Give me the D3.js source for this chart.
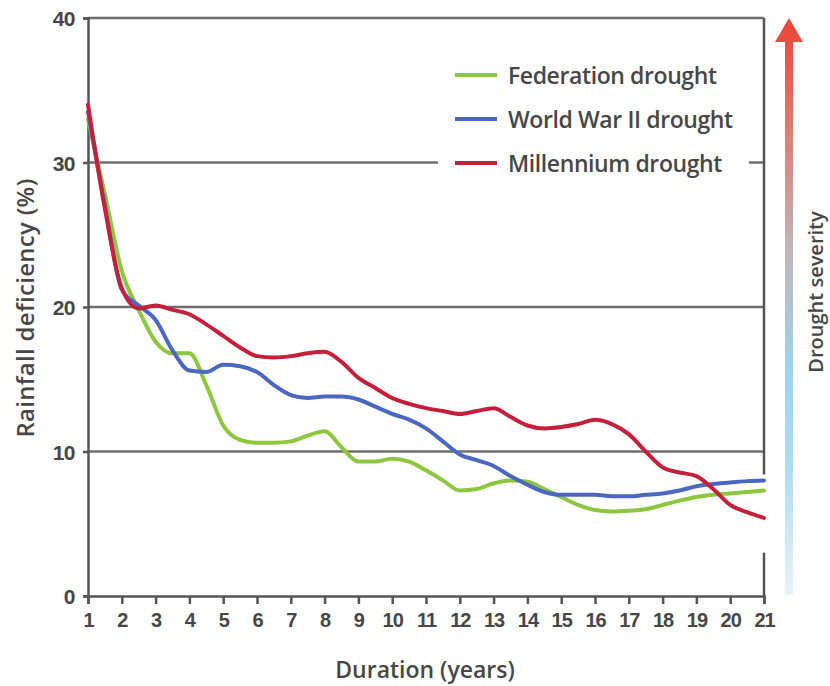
<!DOCTYPE html>
<html>
<head>
<meta charset="utf-8">
<script src="https://cdn.jsdelivr.net/npm/d3@7"></script>
<style>
  body { margin: 0; background: #fff; }
  svg { display: block; font-family: "Open Sans", "Noto Sans", sans-serif; }
</style>
</head>
<body>
<div id="chart"></div>
<script>
// duration in years, half-year steps
var durations = [1,1.5,2,2.5,3,3.5,4,4.5,5,5.5,6,6.5,7,7.5,8,8.5,9,9.5,10,10.5,11,
                 11.5,12,12.5,13,13.5,14,14.5,15,15.5,16,16.5,17,17.5,18,18.5,19,19.5,20,20.5,21];
// rainfall deficiency (%) per drought
var federation = [33.0,27.8,22.5,19.8,17.6,16.8,16.8,14.6,11.8,10.8,10.6,10.6,10.7,11.1,11.4,10.3,9.3,9.3,9.5,9.3,8.7,
                  8.0,7.3,7.4,7.8,8.0,7.9,7.4,6.85,6.3,5.95,5.85,5.9,6.0,6.3,6.6,6.85,7.0,7.1,7.2,7.3];
var wwii = [33.5,27.0,21.2,20.1,19.1,17.0,15.6,15.5,16.0,15.9,15.5,14.6,13.9,13.7,13.8,13.8,13.6,13.1,12.6,12.2,11.6,
            10.7,9.8,9.4,9.0,8.3,7.7,7.2,7.0,7.0,7.0,6.9,6.9,7.0,7.1,7.3,7.6,7.75,7.85,7.95,8.0];
var millennium = [34.0,26.8,21.3,19.9,20.1,19.8,19.5,18.8,18.0,17.2,16.6,16.5,16.6,16.8,16.9,16.2,15.1,14.4,13.7,13.3,13.0,
                  12.8,12.6,12.8,13.0,12.4,11.8,11.6,11.7,11.9,12.2,11.9,11.2,10.0,8.9,8.55,8.3,7.4,6.3,5.8,5.4];

var seriesNames = ["Federation drought", "World War II drought", "Millennium drought"];
var seriesColours = ["#8dc63f", "#4a68c0", "#c5203b"];
var seriesValues = [federation, wwii, millennium];

var xTicks = d3.range(1, 22);
var yTicks = [0, 10, 20, 30, 40];

var width = 830, height = 686;
var textColour = "#474747";
var svg = d3.select("#chart").append("svg").attr("width", width).attr("height", height);

var x = d3.scaleLinear().domain([1, 21]).range([88, 764]);
var y = d3.scaleLinear().domain([0, 40]).range([596, 18]);

// horizontal grid lines at 10..40
svg.append("g").selectAll("line")
   .data(yTicks.filter(function(d){ return d > 0; }))
   .enter().append("line")
   .attr("x1", x(1)).attr("x2", x(21))
   .attr("y1", function(d){ return y(d); }).attr("y2", function(d){ return y(d); })
   .attr("stroke", "#6e6e6e").attr("stroke-width", 2.5);

// y axis
var yAxis = svg.append("g").attr("transform", "translate(" + x(1) + ",0)")
   .call(d3.axisLeft(y).tickValues(yTicks).tickSize(5).tickPadding(8));
yAxis.select(".domain").attr("stroke", "#555").attr("stroke-width", 2.5);
yAxis.selectAll(".tick line").attr("stroke", "#555").attr("stroke-width", 2.5);
yAxis.selectAll("text").attr("fill", textColour).style("font-size", "21px")
     .style("font-weight", 600).style("letter-spacing", "-0.5px").attr("dy", "0.36em");

// x axis
var xAxis = svg.append("g").attr("transform", "translate(0," + y(0) + ")")
   .call(d3.axisBottom(x).tickValues(xTicks).tickSize(8).tickPadding(9));
xAxis.select(".domain").attr("stroke", "#555").attr("stroke-width", 2.5);
xAxis.selectAll(".tick line").attr("stroke", "#555").attr("stroke-width", 2.5);
xAxis.selectAll("text").attr("fill", textColour).style("font-size", "20px")
     .style("font-weight", 600).style("letter-spacing", "-1px");

// right frame line (broken where the lines end)
svg.append("line").attr("x1", x(21)).attr("x2", x(21)).attr("y1", y(40)).attr("y2", y(8.4))
   .attr("stroke", "#555").attr("stroke-width", 2.5);
svg.append("line").attr("x1", x(21)).attr("x2", x(21)).attr("y1", y(3)).attr("y2", y(0))
   .attr("stroke", "#555").attr("stroke-width", 2.5);

// drought lines
var line = d3.line()
   .x(function(d){ return x(d[0]); })
   .y(function(d){ return y(d[1]); })
   .curve(d3.curveMonotoneX);

svg.append("g").selectAll("path")
   .data(seriesValues)
   .enter().append("path")
   .attr("d", function(vals){ return line(durations.map(function(t, i){ return [t, vals[i]]; })); })
   .attr("fill", "none")
   .attr("stroke", function(d, i){ return seriesColours[i]; })
   .attr("stroke-width", 4)
   .attr("stroke-linejoin", "round").attr("stroke-linecap", "round");

// legend, on a white box that hides the 30 grid line
var legend = svg.append("g");
legend.append("rect").attr("x", 438).attr("y", 52).attr("width", 311).attr("height", 130).attr("fill", "#fff");
seriesNames.forEach(function(name, i) {
   var ly = 75 + i * 44;
   legend.append("line").attr("x1", 455).attr("x2", 497).attr("y1", ly).attr("y2", ly)
         .attr("stroke", seriesColours[i]).attr("stroke-width", 4);
   legend.append("text").text(name).attr("x", 508).attr("y", ly + 9)
         .attr("fill", textColour).style("font-size", "23px").style("font-weight", 600)
         .style("letter-spacing", "-0.4px");
});

// axis titles
svg.append("text").text("Duration (years)")
   .attr("x", 425).attr("y", 678).attr("text-anchor", "middle")
   .attr("fill", textColour).style("font-size", "23px").style("font-weight", 600);
svg.append("text").text("Rainfall deficiency (%)")
   .attr("transform", "translate(34,308) rotate(-90)").attr("text-anchor", "middle")
   .attr("fill", textColour).style("font-size", "24px").style("font-weight", 600)
   .style("letter-spacing", "0.3px");

// drought severity arrow
var defs = svg.append("defs");
var grad = defs.append("linearGradient").attr("id", "severity")
   .attr("gradientUnits", "userSpaceOnUse")
   .attr("x1", 0).attr("x2", 0).attr("y1", 18).attr("y2", 595);
[[0, "#ea4436"], [0.2, "#dc7f73"], [0.4, "#c3b4ba"], [0.6, "#9dd3ee"], [0.78, "#aedcf2"], [1, "#e9f3f8"]]
   .forEach(function(s){ grad.append("stop").attr("offset", s[0]).attr("stop-color", s[1]); });
svg.append("path")
   .attr("d", "M785,42 L775,42 L789,18 L803,42 L793,42 L793,595 L785,595 Z")
   .attr("fill", "url(#severity)");
svg.append("text").text("Drought severity")
   .attr("transform", "translate(823,292) rotate(-90)").attr("text-anchor", "middle")
   .attr("fill", textColour).style("font-size", "20px").style("font-weight", 600);
</script>
</body>
</html>
